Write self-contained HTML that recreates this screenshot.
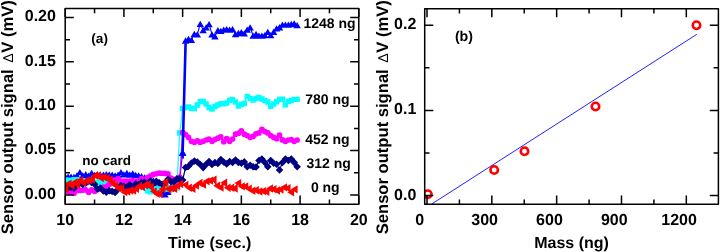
<!DOCTYPE html><html><head><meta charset="utf-8"><style>html,body{margin:0;padding:0;background:#fff;}svg{display:block;will-change:transform;}</style></head><body><svg width="720" height="252" viewBox="0 0 720 252">
<defs><clipPath id="ca"><rect x="65.2" y="8.5" width="293.60" height="195.70"/></clipPath><clipPath id="cb"><rect x="424.7" y="8.7" width="293.70" height="195.50"/></clipPath></defs>
<rect width="720" height="252" fill="#fff"/>
<g clip-path="url(#ca)">
<path d="M65.20 176.47L68.14 176.53L71.07 176.56L74.01 176.78L76.94 175.45L79.88 172.08L82.82 175.30L85.75 174.23L88.69 175.57L91.62 172.80L94.56 174.92L97.50 174.48L100.43 174.75L103.37 174.69L106.30 174.12L109.24 174.52L112.18 174.59L115.11 175.28L118.05 174.55L120.98 172.08L123.92 174.29L126.86 172.93L129.79 174.51L132.73 173.45L135.66 174.80L138.60 175.35L141.54 176.23L144.47 177.47L147.41 178.47L150.34 179.72L153.28 180.50L156.22 183.11L159.15 187.92L162.09 192.08L165.02 194.45L167.96 191.90L170.90 186.31L173.83 182.28L176.77 180.23L179.70 179.12L182.64 152.50L185.58 40.50L188.51 38.80L191.45 39.90L194.38 33.83L197.32 34.43L200.26 23.92L203.19 30.12L206.13 27.47L209.06 24.22L212.00 34.30L214.94 36.23L217.87 30.26L220.81 30.80L223.74 29.69L226.68 29.10L229.62 29.70L232.55 29.19L235.49 34.08L238.42 32.99L241.36 32.03L244.30 33.40L247.23 29.58L250.17 27.32L253.10 35.70L256.04 34.02L258.98 35.69L261.91 35.70L264.85 35.05L267.78 31.82L270.72 35.08L273.66 31.74L276.59 28.41L279.53 27.27L282.46 24.63L285.40 24.60L288.34 24.59L291.27 24.01L294.21 23.40L297.14 25.12" stroke="#0000ff" stroke-width="1.1" fill="none" stroke-linejoin="round"/>
<path d="M61.50 179.62L65.20 173.32L68.90 179.62ZM64.44 179.68L68.14 173.38L71.84 179.68ZM67.37 179.71L71.07 173.41L74.77 179.71ZM70.31 179.93L74.01 173.63L77.71 179.93ZM73.24 178.60L76.94 172.30L80.64 178.60ZM76.18 175.23L79.88 168.93L83.58 175.23ZM79.12 178.45L82.82 172.15L86.52 178.45ZM82.05 177.38L85.75 171.08L89.45 177.38ZM84.99 178.72L88.69 172.42L92.39 178.72ZM87.92 175.95L91.62 169.65L95.32 175.95ZM90.86 178.07L94.56 171.77L98.26 178.07ZM93.80 177.63L97.50 171.33L101.20 177.63ZM96.73 177.90L100.43 171.60L104.13 177.90ZM99.67 177.84L103.37 171.54L107.07 177.84ZM102.60 177.27L106.30 170.97L110.00 177.27ZM105.54 177.67L109.24 171.37L112.94 177.67ZM108.48 177.74L112.18 171.44L115.88 177.74ZM111.41 178.43L115.11 172.13L118.81 178.43ZM114.35 177.70L118.05 171.40L121.75 177.70ZM117.28 175.23L120.98 168.93L124.68 175.23ZM120.22 177.44L123.92 171.14L127.62 177.44ZM123.16 176.08L126.86 169.78L130.56 176.08ZM126.09 177.66L129.79 171.36L133.49 177.66ZM129.03 176.60L132.73 170.30L136.43 176.60ZM131.96 177.95L135.66 171.65L139.36 177.95ZM134.90 178.50L138.60 172.20L142.30 178.50ZM137.84 179.38L141.54 173.08L145.24 179.38ZM140.77 180.62L144.47 174.32L148.17 180.62ZM143.71 181.62L147.41 175.32L151.11 181.62ZM146.64 182.87L150.34 176.57L154.04 182.87ZM149.58 183.65L153.28 177.35L156.98 183.65ZM152.52 186.26L156.22 179.96L159.92 186.26ZM155.45 191.07L159.15 184.77L162.85 191.07ZM158.39 195.23L162.09 188.93L165.79 195.23ZM161.32 197.60L165.02 191.30L168.72 197.60ZM164.26 195.05L167.96 188.75L171.66 195.05ZM167.20 189.46L170.90 183.16L174.60 189.46ZM170.13 185.43L173.83 179.13L177.53 185.43ZM173.07 183.38L176.77 177.08L180.47 183.38ZM176.00 182.27L179.70 175.97L183.40 182.27ZM178.94 155.65L182.64 149.35L186.34 155.65ZM181.88 43.65L185.58 37.35L189.28 43.65ZM184.81 41.95L188.51 35.65L192.21 41.95ZM187.75 43.05L191.45 36.75L195.15 43.05ZM190.68 36.98L194.38 30.68L198.08 36.98ZM193.62 37.58L197.32 31.28L201.02 37.58ZM196.56 27.07L200.26 20.77L203.96 27.07ZM199.49 33.27L203.19 26.97L206.89 33.27ZM202.43 30.62L206.13 24.32L209.83 30.62ZM205.36 27.37L209.06 21.07L212.76 27.37ZM208.30 37.45L212.00 31.15L215.70 37.45ZM211.24 39.38L214.94 33.08L218.64 39.38ZM214.17 33.41L217.87 27.11L221.57 33.41ZM217.11 33.95L220.81 27.65L224.51 33.95ZM220.04 32.84L223.74 26.54L227.44 32.84ZM222.98 32.25L226.68 25.95L230.38 32.25ZM225.92 32.85L229.62 26.55L233.32 32.85ZM228.85 32.34L232.55 26.04L236.25 32.34ZM231.79 37.23L235.49 30.93L239.19 37.23ZM234.72 36.14L238.42 29.84L242.12 36.14ZM237.66 35.18L241.36 28.88L245.06 35.18ZM240.60 36.55L244.30 30.25L248.00 36.55ZM243.53 32.73L247.23 26.43L250.93 32.73ZM246.47 30.47L250.17 24.17L253.87 30.47ZM249.40 38.85L253.10 32.55L256.80 38.85ZM252.34 37.17L256.04 30.87L259.74 37.17ZM255.28 38.84L258.98 32.54L262.68 38.84ZM258.21 38.85L261.91 32.55L265.61 38.85ZM261.15 38.20L264.85 31.90L268.55 38.20ZM264.08 34.97L267.78 28.67L271.48 34.97ZM267.02 38.23L270.72 31.93L274.42 38.23ZM269.96 34.89L273.66 28.59L277.36 34.89ZM272.89 31.56L276.59 25.26L280.29 31.56ZM275.83 30.42L279.53 24.12L283.23 30.42ZM278.76 27.78L282.46 21.48L286.16 27.78ZM281.70 27.75L285.40 21.45L289.10 27.75ZM284.64 27.74L288.34 21.44L292.04 27.74ZM287.57 27.16L291.27 20.86L294.97 27.16ZM290.51 26.55L294.21 20.25L297.91 26.55ZM293.44 28.27L297.14 21.97L300.84 28.27Z" fill="#0000ff"/>
<path d="M65.20 179.92L68.14 180.23L71.07 180.79L74.01 179.75L76.94 179.73L79.88 181.11L82.82 181.10L85.75 182.93L88.69 182.57L91.62 182.30L94.56 182.17L97.50 182.73L100.43 181.48L103.37 182.66L106.30 181.92L109.24 184.01L112.18 181.32L115.11 183.46L118.05 181.39L120.98 183.39L123.92 182.51L126.86 182.71L129.79 184.03L132.73 182.13L135.66 183.24L138.60 186.78L141.54 186.72L144.47 186.79L147.41 190.80L150.34 191.79L153.28 188.85L156.22 189.34L159.15 188.03L162.09 188.44L165.02 189.36L167.96 187.99L170.90 189.46L173.83 187.08L176.77 188.00L179.70 133.00L182.64 108.50L185.58 107.49L188.51 107.00L191.45 108.20L194.38 108.50L197.32 104.98L200.26 101.79L203.19 101.48L206.13 104.03L209.06 107.53L212.00 109.00L214.94 106.48L217.87 105.01L220.81 103.70L223.74 103.69L226.68 103.00L229.62 100.30L232.55 99.64L235.49 101.99L238.42 105.99L241.36 104.48L244.30 103.50L247.23 96.42L250.17 98.38L253.10 100.00L256.04 98.49L258.98 97.51L261.91 99.01L264.85 100.43L267.78 101.99L270.72 106.18L273.66 103.96L276.59 101.81L279.53 99.50L282.46 99.30L285.40 104.90L288.34 101.49L291.27 100.51L294.21 99.40L297.14 99.40" stroke="#00ffff" stroke-width="1.2" fill="none" stroke-linejoin="round"/>
<path d="M62.50 177.22h5.4v5.4h-5.4ZM65.44 177.53h5.4v5.4h-5.4ZM68.37 178.09h5.4v5.4h-5.4ZM71.31 177.05h5.4v5.4h-5.4ZM74.24 177.03h5.4v5.4h-5.4ZM77.18 178.41h5.4v5.4h-5.4ZM80.12 178.40h5.4v5.4h-5.4ZM83.05 180.23h5.4v5.4h-5.4ZM85.99 179.87h5.4v5.4h-5.4ZM88.92 179.60h5.4v5.4h-5.4ZM91.86 179.47h5.4v5.4h-5.4ZM94.80 180.03h5.4v5.4h-5.4ZM97.73 178.78h5.4v5.4h-5.4ZM100.67 179.96h5.4v5.4h-5.4ZM103.60 179.22h5.4v5.4h-5.4ZM106.54 181.31h5.4v5.4h-5.4ZM109.48 178.62h5.4v5.4h-5.4ZM112.41 180.76h5.4v5.4h-5.4ZM115.35 178.69h5.4v5.4h-5.4ZM118.28 180.69h5.4v5.4h-5.4ZM121.22 179.81h5.4v5.4h-5.4ZM124.16 180.01h5.4v5.4h-5.4ZM127.09 181.33h5.4v5.4h-5.4ZM130.03 179.43h5.4v5.4h-5.4ZM132.96 180.54h5.4v5.4h-5.4ZM135.90 184.08h5.4v5.4h-5.4ZM138.84 184.02h5.4v5.4h-5.4ZM141.77 184.09h5.4v5.4h-5.4ZM144.71 188.10h5.4v5.4h-5.4ZM147.64 189.09h5.4v5.4h-5.4ZM150.58 186.15h5.4v5.4h-5.4ZM153.52 186.64h5.4v5.4h-5.4ZM156.45 185.33h5.4v5.4h-5.4ZM159.39 185.74h5.4v5.4h-5.4ZM162.32 186.66h5.4v5.4h-5.4ZM165.26 185.29h5.4v5.4h-5.4ZM168.20 186.76h5.4v5.4h-5.4ZM171.13 184.38h5.4v5.4h-5.4ZM174.07 185.30h5.4v5.4h-5.4ZM177.00 130.30h5.4v5.4h-5.4ZM179.94 105.80h5.4v5.4h-5.4ZM182.88 104.79h5.4v5.4h-5.4ZM185.81 104.30h5.4v5.4h-5.4ZM188.75 105.50h5.4v5.4h-5.4ZM191.68 105.80h5.4v5.4h-5.4ZM194.62 102.28h5.4v5.4h-5.4ZM197.56 99.09h5.4v5.4h-5.4ZM200.49 98.78h5.4v5.4h-5.4ZM203.43 101.33h5.4v5.4h-5.4ZM206.36 104.83h5.4v5.4h-5.4ZM209.30 106.30h5.4v5.4h-5.4ZM212.24 103.78h5.4v5.4h-5.4ZM215.17 102.31h5.4v5.4h-5.4ZM218.11 101.00h5.4v5.4h-5.4ZM221.04 100.99h5.4v5.4h-5.4ZM223.98 100.30h5.4v5.4h-5.4ZM226.92 97.60h5.4v5.4h-5.4ZM229.85 96.94h5.4v5.4h-5.4ZM232.79 99.29h5.4v5.4h-5.4ZM235.72 103.29h5.4v5.4h-5.4ZM238.66 101.78h5.4v5.4h-5.4ZM241.60 100.80h5.4v5.4h-5.4ZM244.53 93.72h5.4v5.4h-5.4ZM247.47 95.68h5.4v5.4h-5.4ZM250.40 97.30h5.4v5.4h-5.4ZM253.34 95.79h5.4v5.4h-5.4ZM256.28 94.81h5.4v5.4h-5.4ZM259.21 96.31h5.4v5.4h-5.4ZM262.15 97.73h5.4v5.4h-5.4ZM265.08 99.29h5.4v5.4h-5.4ZM268.02 103.48h5.4v5.4h-5.4ZM270.96 101.26h5.4v5.4h-5.4ZM273.89 99.11h5.4v5.4h-5.4ZM276.83 96.80h5.4v5.4h-5.4ZM279.76 96.60h5.4v5.4h-5.4ZM282.70 102.20h5.4v5.4h-5.4ZM285.64 98.79h5.4v5.4h-5.4ZM288.57 97.81h5.4v5.4h-5.4ZM291.51 96.70h5.4v5.4h-5.4ZM294.44 96.70h5.4v5.4h-5.4Z" fill="#00ffff"/>
<path d="M65.20 190.04L68.14 191.74L71.07 191.95L74.01 193.20L76.94 190.47L79.88 190.51L82.82 190.08L85.75 189.92L88.69 192.29L91.62 189.89L94.56 191.25L97.50 189.48L100.43 188.83L103.37 187.03L106.30 186.67L109.24 184.22L112.18 180.42L115.11 180.07L118.05 178.67L120.98 181.07L123.92 181.07L126.86 181.15L129.79 180.99L132.73 180.54L135.66 181.60L138.60 181.12L141.54 178.67L144.47 180.35L147.41 177.59L150.34 176.13L153.28 174.39L156.22 173.74L159.15 173.17L162.09 173.24L165.02 173.46L167.96 173.84L170.90 178.19L173.83 179.32L176.77 180.44L179.70 177.00L182.64 132.40L185.58 134.57L188.51 137.32L191.45 141.31L194.38 142.20L197.32 140.91L200.26 142.18L203.19 141.26L206.13 139.99L209.06 139.15L212.00 141.30L214.94 139.58L217.87 138.21L220.81 136.91L223.74 141.75L226.68 138.72L229.62 141.29L232.55 139.02L235.49 134.22L238.42 133.28L241.36 130.77L244.30 134.20L247.23 135.62L250.17 137.28L253.10 136.40L256.04 133.79L258.98 132.91L261.91 129.31L264.85 131.62L267.78 132.89L270.72 135.61L273.66 137.33L276.59 138.70L279.53 135.15L282.46 139.94L285.40 141.30L288.34 140.00L291.27 139.60L294.21 141.30L297.14 140.00" stroke="#ff00ff" stroke-width="1.2" fill="none" stroke-linejoin="round"/>
<path d="M62.35 190.04a2.85 2.85 0 1 0 5.7 0a2.85 2.85 0 1 0 -5.7 0ZM65.29 191.74a2.85 2.85 0 1 0 5.7 0a2.85 2.85 0 1 0 -5.7 0ZM68.22 191.95a2.85 2.85 0 1 0 5.7 0a2.85 2.85 0 1 0 -5.7 0ZM71.16 193.20a2.85 2.85 0 1 0 5.7 0a2.85 2.85 0 1 0 -5.7 0ZM74.09 190.47a2.85 2.85 0 1 0 5.7 0a2.85 2.85 0 1 0 -5.7 0ZM77.03 190.51a2.85 2.85 0 1 0 5.7 0a2.85 2.85 0 1 0 -5.7 0ZM79.97 190.08a2.85 2.85 0 1 0 5.7 0a2.85 2.85 0 1 0 -5.7 0ZM82.90 189.92a2.85 2.85 0 1 0 5.7 0a2.85 2.85 0 1 0 -5.7 0ZM85.84 192.29a2.85 2.85 0 1 0 5.7 0a2.85 2.85 0 1 0 -5.7 0ZM88.77 189.89a2.85 2.85 0 1 0 5.7 0a2.85 2.85 0 1 0 -5.7 0ZM91.71 191.25a2.85 2.85 0 1 0 5.7 0a2.85 2.85 0 1 0 -5.7 0ZM94.65 189.48a2.85 2.85 0 1 0 5.7 0a2.85 2.85 0 1 0 -5.7 0ZM97.58 188.83a2.85 2.85 0 1 0 5.7 0a2.85 2.85 0 1 0 -5.7 0ZM100.52 187.03a2.85 2.85 0 1 0 5.7 0a2.85 2.85 0 1 0 -5.7 0ZM103.45 186.67a2.85 2.85 0 1 0 5.7 0a2.85 2.85 0 1 0 -5.7 0ZM106.39 184.22a2.85 2.85 0 1 0 5.7 0a2.85 2.85 0 1 0 -5.7 0ZM109.33 180.42a2.85 2.85 0 1 0 5.7 0a2.85 2.85 0 1 0 -5.7 0ZM112.26 180.07a2.85 2.85 0 1 0 5.7 0a2.85 2.85 0 1 0 -5.7 0ZM115.20 178.67a2.85 2.85 0 1 0 5.7 0a2.85 2.85 0 1 0 -5.7 0ZM118.13 181.07a2.85 2.85 0 1 0 5.7 0a2.85 2.85 0 1 0 -5.7 0ZM121.07 181.07a2.85 2.85 0 1 0 5.7 0a2.85 2.85 0 1 0 -5.7 0ZM124.01 181.15a2.85 2.85 0 1 0 5.7 0a2.85 2.85 0 1 0 -5.7 0ZM126.94 180.99a2.85 2.85 0 1 0 5.7 0a2.85 2.85 0 1 0 -5.7 0ZM129.88 180.54a2.85 2.85 0 1 0 5.7 0a2.85 2.85 0 1 0 -5.7 0ZM132.81 181.60a2.85 2.85 0 1 0 5.7 0a2.85 2.85 0 1 0 -5.7 0ZM135.75 181.12a2.85 2.85 0 1 0 5.7 0a2.85 2.85 0 1 0 -5.7 0ZM138.69 178.67a2.85 2.85 0 1 0 5.7 0a2.85 2.85 0 1 0 -5.7 0ZM141.62 180.35a2.85 2.85 0 1 0 5.7 0a2.85 2.85 0 1 0 -5.7 0ZM144.56 177.59a2.85 2.85 0 1 0 5.7 0a2.85 2.85 0 1 0 -5.7 0ZM147.49 176.13a2.85 2.85 0 1 0 5.7 0a2.85 2.85 0 1 0 -5.7 0ZM150.43 174.39a2.85 2.85 0 1 0 5.7 0a2.85 2.85 0 1 0 -5.7 0ZM153.37 173.74a2.85 2.85 0 1 0 5.7 0a2.85 2.85 0 1 0 -5.7 0ZM156.30 173.17a2.85 2.85 0 1 0 5.7 0a2.85 2.85 0 1 0 -5.7 0ZM159.24 173.24a2.85 2.85 0 1 0 5.7 0a2.85 2.85 0 1 0 -5.7 0ZM162.17 173.46a2.85 2.85 0 1 0 5.7 0a2.85 2.85 0 1 0 -5.7 0ZM165.11 173.84a2.85 2.85 0 1 0 5.7 0a2.85 2.85 0 1 0 -5.7 0ZM168.05 178.19a2.85 2.85 0 1 0 5.7 0a2.85 2.85 0 1 0 -5.7 0ZM170.98 179.32a2.85 2.85 0 1 0 5.7 0a2.85 2.85 0 1 0 -5.7 0ZM173.92 180.44a2.85 2.85 0 1 0 5.7 0a2.85 2.85 0 1 0 -5.7 0ZM176.85 177.00a2.85 2.85 0 1 0 5.7 0a2.85 2.85 0 1 0 -5.7 0ZM179.79 132.40a2.85 2.85 0 1 0 5.7 0a2.85 2.85 0 1 0 -5.7 0ZM182.73 134.57a2.85 2.85 0 1 0 5.7 0a2.85 2.85 0 1 0 -5.7 0ZM185.66 137.32a2.85 2.85 0 1 0 5.7 0a2.85 2.85 0 1 0 -5.7 0ZM188.60 141.31a2.85 2.85 0 1 0 5.7 0a2.85 2.85 0 1 0 -5.7 0ZM191.53 142.20a2.85 2.85 0 1 0 5.7 0a2.85 2.85 0 1 0 -5.7 0ZM194.47 140.91a2.85 2.85 0 1 0 5.7 0a2.85 2.85 0 1 0 -5.7 0ZM197.41 142.18a2.85 2.85 0 1 0 5.7 0a2.85 2.85 0 1 0 -5.7 0ZM200.34 141.26a2.85 2.85 0 1 0 5.7 0a2.85 2.85 0 1 0 -5.7 0ZM203.28 139.99a2.85 2.85 0 1 0 5.7 0a2.85 2.85 0 1 0 -5.7 0ZM206.21 139.15a2.85 2.85 0 1 0 5.7 0a2.85 2.85 0 1 0 -5.7 0ZM209.15 141.30a2.85 2.85 0 1 0 5.7 0a2.85 2.85 0 1 0 -5.7 0ZM212.09 139.58a2.85 2.85 0 1 0 5.7 0a2.85 2.85 0 1 0 -5.7 0ZM215.02 138.21a2.85 2.85 0 1 0 5.7 0a2.85 2.85 0 1 0 -5.7 0ZM217.96 136.91a2.85 2.85 0 1 0 5.7 0a2.85 2.85 0 1 0 -5.7 0ZM220.89 141.75a2.85 2.85 0 1 0 5.7 0a2.85 2.85 0 1 0 -5.7 0ZM223.83 138.72a2.85 2.85 0 1 0 5.7 0a2.85 2.85 0 1 0 -5.7 0ZM226.77 141.29a2.85 2.85 0 1 0 5.7 0a2.85 2.85 0 1 0 -5.7 0ZM229.70 139.02a2.85 2.85 0 1 0 5.7 0a2.85 2.85 0 1 0 -5.7 0ZM232.64 134.22a2.85 2.85 0 1 0 5.7 0a2.85 2.85 0 1 0 -5.7 0ZM235.57 133.28a2.85 2.85 0 1 0 5.7 0a2.85 2.85 0 1 0 -5.7 0ZM238.51 130.77a2.85 2.85 0 1 0 5.7 0a2.85 2.85 0 1 0 -5.7 0ZM241.45 134.20a2.85 2.85 0 1 0 5.7 0a2.85 2.85 0 1 0 -5.7 0ZM244.38 135.62a2.85 2.85 0 1 0 5.7 0a2.85 2.85 0 1 0 -5.7 0ZM247.32 137.28a2.85 2.85 0 1 0 5.7 0a2.85 2.85 0 1 0 -5.7 0ZM250.25 136.40a2.85 2.85 0 1 0 5.7 0a2.85 2.85 0 1 0 -5.7 0ZM253.19 133.79a2.85 2.85 0 1 0 5.7 0a2.85 2.85 0 1 0 -5.7 0ZM256.13 132.91a2.85 2.85 0 1 0 5.7 0a2.85 2.85 0 1 0 -5.7 0ZM259.06 129.31a2.85 2.85 0 1 0 5.7 0a2.85 2.85 0 1 0 -5.7 0ZM262.00 131.62a2.85 2.85 0 1 0 5.7 0a2.85 2.85 0 1 0 -5.7 0ZM264.93 132.89a2.85 2.85 0 1 0 5.7 0a2.85 2.85 0 1 0 -5.7 0ZM267.87 135.61a2.85 2.85 0 1 0 5.7 0a2.85 2.85 0 1 0 -5.7 0ZM270.81 137.33a2.85 2.85 0 1 0 5.7 0a2.85 2.85 0 1 0 -5.7 0ZM273.74 138.70a2.85 2.85 0 1 0 5.7 0a2.85 2.85 0 1 0 -5.7 0ZM276.68 135.15a2.85 2.85 0 1 0 5.7 0a2.85 2.85 0 1 0 -5.7 0ZM279.61 139.94a2.85 2.85 0 1 0 5.7 0a2.85 2.85 0 1 0 -5.7 0ZM282.55 141.30a2.85 2.85 0 1 0 5.7 0a2.85 2.85 0 1 0 -5.7 0ZM285.49 140.00a2.85 2.85 0 1 0 5.7 0a2.85 2.85 0 1 0 -5.7 0ZM288.42 139.60a2.85 2.85 0 1 0 5.7 0a2.85 2.85 0 1 0 -5.7 0ZM291.36 141.30a2.85 2.85 0 1 0 5.7 0a2.85 2.85 0 1 0 -5.7 0ZM294.29 140.00a2.85 2.85 0 1 0 5.7 0a2.85 2.85 0 1 0 -5.7 0Z" fill="#ff00ff"/>
<path d="M65.20 184.96L68.14 188.03L71.07 187.25L74.01 188.12L76.94 183.94L79.88 183.05L82.82 184.51L85.75 182.99L88.69 180.43L91.62 182.55L94.56 184.31L97.50 188.98L100.43 187.96L103.37 190.86L106.30 192.23L109.24 190.63L112.18 191.34L115.11 192.47L118.05 189.32L120.98 185.50L123.92 186.59L126.86 186.94L129.79 184.86L132.73 187.48L135.66 184.14L138.60 184.51L141.54 182.45L144.47 182.27L147.41 185.12L150.34 181.05L153.28 183.71L156.22 181.23L159.15 182.85L162.09 184.18L165.02 182.80L167.96 179.37L170.90 181.52L173.83 181.67L176.77 178.90L179.70 178.89L182.64 180.00L185.58 167.50L188.51 166.29L191.45 162.97L194.38 161.01L197.32 162.02L200.26 164.46L203.19 167.60L206.13 164.37L209.06 161.56L212.00 164.40L214.94 162.51L217.87 163.39L220.81 159.61L223.74 162.03L226.68 163.89L229.62 161.51L232.55 162.46L235.49 160.11L238.42 162.51L241.36 163.27L244.30 161.90L247.23 166.68L250.17 165.22L253.10 166.70L256.04 167.01L258.98 160.55L261.91 159.01L264.85 162.47L267.78 166.68L270.72 160.52L273.66 163.32L276.59 164.30L279.53 170.03L282.46 162.49L285.40 159.00L288.34 160.48L291.27 159.01L294.21 162.41L297.14 166.73" stroke="#000080" stroke-width="1.2" fill="none" stroke-linejoin="round"/>
<path d="M65.20 181.16L69.00 184.96L65.20 188.76L61.40 184.96ZM68.14 184.23L71.94 188.03L68.14 191.83L64.34 188.03ZM71.07 183.45L74.87 187.25L71.07 191.05L67.27 187.25ZM74.01 184.32L77.81 188.12L74.01 191.92L70.21 188.12ZM76.94 180.14L80.74 183.94L76.94 187.74L73.14 183.94ZM79.88 179.25L83.68 183.05L79.88 186.85L76.08 183.05ZM82.82 180.71L86.62 184.51L82.82 188.31L79.02 184.51ZM85.75 179.19L89.55 182.99L85.75 186.79L81.95 182.99ZM88.69 176.63L92.49 180.43L88.69 184.23L84.89 180.43ZM91.62 178.75L95.42 182.55L91.62 186.35L87.82 182.55ZM94.56 180.51L98.36 184.31L94.56 188.11L90.76 184.31ZM97.50 185.18L101.30 188.98L97.50 192.78L93.70 188.98ZM100.43 184.16L104.23 187.96L100.43 191.76L96.63 187.96ZM103.37 187.06L107.17 190.86L103.37 194.66L99.57 190.86ZM106.30 188.43L110.10 192.23L106.30 196.03L102.50 192.23ZM109.24 186.83L113.04 190.63L109.24 194.43L105.44 190.63ZM112.18 187.54L115.98 191.34L112.18 195.14L108.38 191.34ZM115.11 188.67L118.91 192.47L115.11 196.27L111.31 192.47ZM118.05 185.52L121.85 189.32L118.05 193.12L114.25 189.32ZM120.98 181.70L124.78 185.50L120.98 189.30L117.18 185.50ZM123.92 182.79L127.72 186.59L123.92 190.39L120.12 186.59ZM126.86 183.14L130.66 186.94L126.86 190.74L123.06 186.94ZM129.79 181.06L133.59 184.86L129.79 188.66L125.99 184.86ZM132.73 183.68L136.53 187.48L132.73 191.28L128.93 187.48ZM135.66 180.34L139.46 184.14L135.66 187.94L131.86 184.14ZM138.60 180.71L142.40 184.51L138.60 188.31L134.80 184.51ZM141.54 178.65L145.34 182.45L141.54 186.25L137.74 182.45ZM144.47 178.47L148.27 182.27L144.47 186.07L140.67 182.27ZM147.41 181.32L151.21 185.12L147.41 188.92L143.61 185.12ZM150.34 177.25L154.14 181.05L150.34 184.85L146.54 181.05ZM153.28 179.91L157.08 183.71L153.28 187.51L149.48 183.71ZM156.22 177.43L160.02 181.23L156.22 185.03L152.42 181.23ZM159.15 179.05L162.95 182.85L159.15 186.65L155.35 182.85ZM162.09 180.38L165.89 184.18L162.09 187.98L158.29 184.18ZM165.02 179.00L168.82 182.80L165.02 186.60L161.22 182.80ZM167.96 175.57L171.76 179.37L167.96 183.17L164.16 179.37ZM170.90 177.72L174.70 181.52L170.90 185.32L167.10 181.52ZM173.83 177.87L177.63 181.67L173.83 185.47L170.03 181.67ZM176.77 175.10L180.57 178.90L176.77 182.70L172.97 178.90ZM179.70 175.09L183.50 178.89L179.70 182.69L175.90 178.89ZM182.64 176.20L186.44 180.00L182.64 183.80L178.84 180.00ZM185.58 163.70L189.38 167.50L185.58 171.30L181.78 167.50ZM188.51 162.49L192.31 166.29L188.51 170.09L184.71 166.29ZM191.45 159.17L195.25 162.97L191.45 166.77L187.65 162.97ZM194.38 157.21L198.18 161.01L194.38 164.81L190.58 161.01ZM197.32 158.22L201.12 162.02L197.32 165.82L193.52 162.02ZM200.26 160.66L204.06 164.46L200.26 168.26L196.46 164.46ZM203.19 163.80L206.99 167.60L203.19 171.40L199.39 167.60ZM206.13 160.57L209.93 164.37L206.13 168.17L202.33 164.37ZM209.06 157.76L212.86 161.56L209.06 165.36L205.26 161.56ZM212.00 160.60L215.80 164.40L212.00 168.20L208.20 164.40ZM214.94 158.71L218.74 162.51L214.94 166.31L211.14 162.51ZM217.87 159.59L221.67 163.39L217.87 167.19L214.07 163.39ZM220.81 155.81L224.61 159.61L220.81 163.41L217.01 159.61ZM223.74 158.23L227.54 162.03L223.74 165.83L219.94 162.03ZM226.68 160.09L230.48 163.89L226.68 167.69L222.88 163.89ZM229.62 157.71L233.42 161.51L229.62 165.31L225.82 161.51ZM232.55 158.66L236.35 162.46L232.55 166.26L228.75 162.46ZM235.49 156.31L239.29 160.11L235.49 163.91L231.69 160.11ZM238.42 158.71L242.22 162.51L238.42 166.31L234.62 162.51ZM241.36 159.47L245.16 163.27L241.36 167.07L237.56 163.27ZM244.30 158.10L248.10 161.90L244.30 165.70L240.50 161.90ZM247.23 162.88L251.03 166.68L247.23 170.48L243.43 166.68ZM250.17 161.42L253.97 165.22L250.17 169.02L246.37 165.22ZM253.10 162.90L256.90 166.70L253.10 170.50L249.30 166.70ZM256.04 163.21L259.84 167.01L256.04 170.81L252.24 167.01ZM258.98 156.75L262.78 160.55L258.98 164.35L255.18 160.55ZM261.91 155.21L265.71 159.01L261.91 162.81L258.11 159.01ZM264.85 158.67L268.65 162.47L264.85 166.27L261.05 162.47ZM267.78 162.88L271.58 166.68L267.78 170.48L263.98 166.68ZM270.72 156.72L274.52 160.52L270.72 164.32L266.92 160.52ZM273.66 159.52L277.46 163.32L273.66 167.12L269.86 163.32ZM276.59 160.50L280.39 164.30L276.59 168.10L272.79 164.30ZM279.53 166.23L283.33 170.03L279.53 173.83L275.73 170.03ZM282.46 158.69L286.26 162.49L282.46 166.29L278.66 162.49ZM285.40 155.20L289.20 159.00L285.40 162.80L281.60 159.00ZM288.34 156.68L292.14 160.48L288.34 164.28L284.54 160.48ZM291.27 155.21L295.07 159.01L291.27 162.81L287.47 159.01ZM294.21 158.61L298.01 162.41L294.21 166.21L290.41 162.41ZM297.14 162.93L300.94 166.73L297.14 170.53L293.34 166.73Z" fill="#000080"/>
<path d="M65.20 188.86L68.14 183.78L71.07 185.62L74.01 182.43L76.94 184.86L79.88 180.10L82.82 182.67L85.75 180.85L88.69 180.09L91.62 179.47L94.56 175.55L97.50 175.52L100.43 177.98L103.37 177.24L106.30 178.21L109.24 179.53L112.18 183.52L115.11 185.61L118.05 188.24L120.98 188.26L123.92 192.17L126.86 191.50L129.79 190.57L132.73 190.50L135.66 188.85L138.60 186.09L141.54 186.93L144.47 185.01L147.41 184.34L150.34 186.96L153.28 191.36L156.22 193.72L159.15 193.99L162.09 188.99L165.02 182.01L167.96 189.06L170.90 188.37L173.83 188.87L176.77 185.78L179.70 183.93L184.99 184.83L188.51 187.79L192.04 188.77L195.56 185.53L199.08 183.06L202.60 184.67L206.13 181.37L209.65 180.64L213.17 179.74L216.70 185.74L220.22 187.45L223.74 182.81L227.27 187.71L230.79 187.79L234.31 188.43L237.84 183.12L241.36 186.38L244.88 186.51L248.41 188.77L251.93 190.76L255.45 190.28L258.98 191.46L262.50 191.16L266.02 191.71L269.55 188.47L273.07 189.27L276.59 190.57L280.12 189.48L283.64 187.38L287.16 188.13L290.68 192.37L294.21 189.33" stroke="#ff0000" stroke-width="1.2" fill="none" stroke-linejoin="round"/>
<path d="M68.60 184.66L61.80 188.86L68.60 193.06ZM71.54 179.58L64.74 183.78L71.54 187.98ZM74.47 181.42L67.67 185.62L74.47 189.82ZM77.41 178.23L70.61 182.43L77.41 186.63ZM80.34 180.66L73.54 184.86L80.34 189.06ZM83.28 175.90L76.48 180.10L83.28 184.30ZM86.22 178.47L79.42 182.67L86.22 186.87ZM89.15 176.65L82.35 180.85L89.15 185.05ZM92.09 175.89L85.29 180.09L92.09 184.29ZM95.02 175.27L88.22 179.47L95.02 183.67ZM97.96 171.35L91.16 175.55L97.96 179.75ZM100.90 171.32L94.10 175.52L100.90 179.72ZM103.83 173.78L97.03 177.98L103.83 182.18ZM106.77 173.04L99.97 177.24L106.77 181.44ZM109.70 174.01L102.90 178.21L109.70 182.41ZM112.64 175.33L105.84 179.53L112.64 183.73ZM115.58 179.32L108.78 183.52L115.58 187.72ZM118.51 181.41L111.71 185.61L118.51 189.81ZM121.45 184.04L114.65 188.24L121.45 192.44ZM124.38 184.06L117.58 188.26L124.38 192.46ZM127.32 187.97L120.52 192.17L127.32 196.37ZM130.26 187.30L123.46 191.50L130.26 195.70ZM133.19 186.37L126.39 190.57L133.19 194.77ZM136.13 186.30L129.33 190.50L136.13 194.70ZM139.06 184.65L132.26 188.85L139.06 193.05ZM142.00 181.89L135.20 186.09L142.00 190.29ZM144.94 182.73L138.14 186.93L144.94 191.13ZM147.87 180.81L141.07 185.01L147.87 189.21ZM150.81 180.14L144.01 184.34L150.81 188.54ZM153.74 182.76L146.94 186.96L153.74 191.16ZM156.68 187.16L149.88 191.36L156.68 195.56ZM159.62 189.52L152.82 193.72L159.62 197.92ZM162.55 189.79L155.75 193.99L162.55 198.19ZM165.49 184.79L158.69 188.99L165.49 193.19ZM168.42 177.81L161.62 182.01L168.42 186.21ZM171.36 184.86L164.56 189.06L171.36 193.26ZM174.30 184.17L167.50 188.37L174.30 192.57ZM177.23 184.67L170.43 188.87L177.23 193.07ZM180.17 181.58L173.37 185.78L180.17 189.98ZM183.10 179.73L176.30 183.93L183.10 188.13ZM188.39 180.63L181.59 184.83L188.39 189.03ZM191.91 183.59L185.11 187.79L191.91 191.99ZM195.44 184.57L188.64 188.77L195.44 192.97ZM198.96 181.33L192.16 185.53L198.96 189.73ZM202.48 178.86L195.68 183.06L202.48 187.26ZM206.00 180.47L199.20 184.67L206.00 188.87ZM209.53 177.17L202.73 181.37L209.53 185.57ZM213.05 176.44L206.25 180.64L213.05 184.84ZM216.57 175.54L209.77 179.74L216.57 183.94ZM220.10 181.54L213.30 185.74L220.10 189.94ZM223.62 183.25L216.82 187.45L223.62 191.65ZM227.14 178.61L220.34 182.81L227.14 187.01ZM230.67 183.51L223.87 187.71L230.67 191.91ZM234.19 183.59L227.39 187.79L234.19 191.99ZM237.71 184.23L230.91 188.43L237.71 192.63ZM241.24 178.92L234.44 183.12L241.24 187.32ZM244.76 182.18L237.96 186.38L244.76 190.58ZM248.28 182.31L241.48 186.51L248.28 190.71ZM251.81 184.57L245.01 188.77L251.81 192.97ZM255.33 186.56L248.53 190.76L255.33 194.96ZM258.85 186.08L252.05 190.28L258.85 194.48ZM262.38 187.26L255.58 191.46L262.38 195.66ZM265.90 186.96L259.10 191.16L265.90 195.36ZM269.42 187.51L262.62 191.71L269.42 195.91ZM272.95 184.27L266.15 188.47L272.95 192.67ZM276.47 185.07L269.67 189.27L276.47 193.47ZM279.99 186.37L273.19 190.57L279.99 194.77ZM283.52 185.28L276.72 189.48L283.52 193.68ZM287.04 183.18L280.24 187.38L287.04 191.58ZM290.56 183.93L283.76 188.13L290.56 192.33ZM294.08 188.17L287.28 192.37L294.08 196.57ZM297.61 185.13L290.81 189.33L297.61 193.53Z" fill="#ff0000"/>
<path d="M182.64 158.50L182.64 152.50L185.58 43.50" stroke="#0000ff" stroke-width="2.6" fill="none"/>
<path d="M178.94 155.65L182.64 149.35L186.34 155.65Z" fill="#0000ff"/>
</g>
<g clip-path="url(#cb)">
<line x1="431.7" y1="204.0" x2="696.8" y2="34.3" stroke="#2020ff" stroke-width="1"/>
<circle cx="427.8" cy="194.2" r="3.75" stroke="#ff0000" stroke-width="2.6" fill="none"/>
<circle cx="494.2" cy="170.0" r="3.75" stroke="#ff0000" stroke-width="2.6" fill="none"/>
<circle cx="524.5" cy="151.3" r="3.75" stroke="#ff0000" stroke-width="2.6" fill="none"/>
<circle cx="595.5" cy="106.5" r="3.75" stroke="#ff0000" stroke-width="2.6" fill="none"/>
<circle cx="696.5" cy="25.3" r="3.75" stroke="#ff0000" stroke-width="2.6" fill="none"/>
</g>
<path d="M65.20 204.20v-8.6M65.20 8.50v8.6M123.92 204.20v-8.6M123.92 8.50v8.6M182.64 204.20v-8.6M182.64 8.50v8.6M241.36 204.20v-8.6M241.36 8.50v8.6M300.08 204.20v-8.6M300.08 8.50v8.6M358.80 204.20v-8.6M358.80 8.50v8.6M94.56 204.20v-4.8M94.56 8.50v4.8M153.28 204.20v-4.8M153.28 8.50v4.8M212.00 204.20v-4.8M212.00 8.50v4.8M270.72 204.20v-4.8M270.72 8.50v4.8M329.44 204.20v-4.8M329.44 8.50v4.8M65.20 194.93h8.6M358.80 194.93h-8.6M65.20 150.56h8.6M358.80 150.56h-8.6M65.20 106.20h8.6M358.80 106.20h-8.6M65.20 61.84h8.6M358.80 61.84h-8.6M65.20 17.47h8.6M358.80 17.47h-8.6M65.20 172.75h4.8M358.80 172.75h-4.8M65.20 128.38h4.8M358.80 128.38h-4.8M65.20 84.02h4.8M358.80 84.02h-4.8M65.20 39.65h4.8M358.80 39.65h-4.8" stroke="#000" stroke-width="1.5" fill="none"/>
<rect x="65.2" y="8.5" width="293.60" height="195.70" stroke="#000" stroke-width="1.5" fill="none" stroke-linejoin="round"/>
<path d="M427.00 204.20v-8.6M427.00 8.70v8.6M491.83 204.20v-8.6M491.83 8.70v8.6M556.66 204.20v-8.6M556.66 8.70v8.6M621.49 204.20v-8.6M621.49 8.70v8.6M686.32 204.20v-8.6M686.32 8.70v8.6M459.42 204.20v-4.8M459.42 8.70v4.8M524.25 204.20v-4.8M524.25 8.70v4.8M589.08 204.20v-4.8M589.08 8.70v4.8M653.90 204.20v-4.8M653.90 8.70v4.8M424.70 195.60h8.6M718.40 195.60h-8.6M424.70 110.40h8.6M718.40 110.40h-8.6M424.70 25.20h8.6M718.40 25.20h-8.6M424.70 153.00h4.8M718.40 153.00h-4.8M424.70 67.80h4.8M718.40 67.80h-4.8" stroke="#000" stroke-width="1.5" fill="none"/>
<rect x="424.7" y="8.7" width="293.70" height="195.50" stroke="#000" stroke-width="1.5" fill="none" stroke-linejoin="round"/>
<g font-family="Liberation Sans, sans-serif" font-weight="bold" fill="#000" text-rendering="geometricPrecision">
<text x="55.90" y="198.83" font-size="16" text-anchor="end" >0.00</text>
<text x="55.90" y="154.47" font-size="16" text-anchor="end" >0.05</text>
<text x="55.90" y="110.10" font-size="16" text-anchor="end" >0.10</text>
<text x="55.90" y="65.74" font-size="16" text-anchor="end" >0.15</text>
<text x="55.90" y="21.37" font-size="16" text-anchor="end" >0.20</text>
<text x="65.20" y="225.30" font-size="16" text-anchor="middle" >10</text>
<text x="123.92" y="225.30" font-size="16" text-anchor="middle" >12</text>
<text x="182.64" y="225.30" font-size="16" text-anchor="middle" >14</text>
<text x="241.36" y="225.30" font-size="16" text-anchor="middle" >16</text>
<text x="300.08" y="225.30" font-size="16" text-anchor="middle" >18</text>
<text x="358.80" y="225.30" font-size="16" text-anchor="middle" >20</text>
<text x="209.60" y="247.50" font-size="16" text-anchor="middle" >Time (sec.)</text>
<text transform="translate(12.7,234.3) rotate(-90)" font-size="16.6">Sensor output signal <tspan font-weight="normal" font-size="14.2" dx="1.9">Δ</tspan><tspan dx="0.5">V (mV)</tspan></text>
<text x="91.30" y="43.40" font-size="13.6" text-anchor="start" >(a)</text>
<text x="82.30" y="165.20" font-size="13.5" text-anchor="start" >no card</text>
<text x="303.40" y="28.40" font-size="14" text-anchor="start" >1248 ng</text>
<text x="305.20" y="103.70" font-size="14" text-anchor="start" >780 ng</text>
<text x="305.20" y="144.30" font-size="14" text-anchor="start" >452 ng</text>
<text x="306.40" y="168.30" font-size="14" text-anchor="start" >312 ng</text>
<text x="310.90" y="192.10" font-size="14" text-anchor="start" >0 ng</text>
<text x="416.30" y="199.50" font-size="16" text-anchor="end" >0.0</text>
<text x="416.30" y="114.30" font-size="16" text-anchor="end" >0.1</text>
<text x="416.30" y="29.10" font-size="16" text-anchor="end" >0.2</text>
<text x="419.80" y="225.10" font-size="16" text-anchor="middle" >0</text>
<text x="484.63" y="225.10" font-size="16" text-anchor="middle" >300</text>
<text x="549.46" y="225.10" font-size="16" text-anchor="middle" >600</text>
<text x="614.29" y="225.10" font-size="16" text-anchor="middle" >900</text>
<text x="679.12" y="225.10" font-size="16" text-anchor="middle" >1200</text>
<text x="571.50" y="247.70" font-size="16" text-anchor="middle" >Mass (ng)</text>
<text transform="translate(387.6,234.3) rotate(-90)" font-size="16.6">Sensor output signal <tspan font-weight="normal" font-size="14.2" dx="1.9">Δ</tspan><tspan dx="0.5">V (mV)</tspan></text>
<text x="454.90" y="41.20" font-size="14.2" text-anchor="start" >(b)</text>
</g>
</svg></body></html>
